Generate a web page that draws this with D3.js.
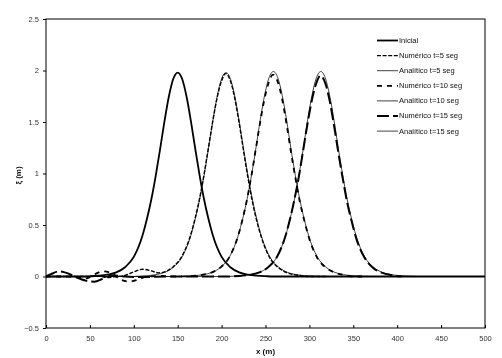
<!DOCTYPE html>
<html lang="es">
<head>
<meta charset="utf-8">
<script src="https://d3js.org/d3.v7.min.js"></script>
<style>
  body { margin: 0; background: #fff; }
  svg { will-change: transform; }
  text { font-family: "Liberation Sans", Arial, sans-serif; fill: #111; }
  .tick text { font-size: 7.5px; fill: #333; }
  .legend text { font-size: 7.5px; }
  .axis-label { font-size: 8px; font-weight: bold; }
</style>
</head>
<body>
<script>
// values, [x (m), xi (m)]
var inicial = [[0,0],[45,0],[50,0.003],[60,0.008],[70,0.018],[80,0.04],[90,0.09],[100,0.19],[110,0.40],[115,0.56],[120,0.75],[125,0.98],[130,1.24],[135,1.51],[140,1.75],[145,1.92],[150,1.98],[155,1.92],[160,1.75],[165,1.51],[170,1.24],[175,0.98],[180,0.75],[185,0.56],[190,0.40],[200,0.19],[210,0.09],[220,0.04],[230,0.018],[240,0.008],[250,0.003],[260,0],[500,0]];

var num5 = [[0,0],[50,0],[60,0.005],[70,-0.01],[80,0],[90,0.01],[100,0.045],[110,0.07],[120,0.055],[128,0.035],[135,0.045],[145,0.095],[155,0.2],[165,0.41],[170,0.57],[175,0.76],[180,0.99],[185,1.25],[190,1.51],[195,1.74],[200,1.9],[204.5,1.97],[210,1.9],[215,1.73],[220,1.49],[225,1.22],[230,0.96],[235,0.73],[240,0.54],[245,0.39],[255,0.18],[265,0.085],[275,0.035],[285,0.015],[300,0],[320,0]];

var ana5 = [[0,0],[100,0],[105,0.003],[115,0.008],[125,0.018],[135,0.04],[145,0.09],[155,0.19],[165,0.40],[170,0.56],[175,0.75],[180,0.98],[185,1.24],[190,1.51],[195,1.75],[200,1.92],[205,1.98],[210,1.92],[215,1.75],[220,1.51],[225,1.24],[230,0.98],[235,0.75],[240,0.56],[245,0.40],[255,0.19],[265,0.09],[275,0.04],[285,0.018],[295,0.008],[305,0.003],[315,0],[500,0]];

var num10 = [[0,0],[30,0],[45,-0.02],[55,0.02],[65,0.05],[75,0.03],[85,-0.03],[95,-0.05],[105,-0.03],[115,0],[130,0.005],[150,0],[170,0.008],[179,0.018],[189,0.04],[199,0.09],[209,0.19],[219,0.40],[224,0.56],[229,0.75],[234,0.98],[239,1.24],[244,1.50],[249,1.73],[254,1.89],[258.5,1.96],[264,1.89],[269,1.72],[274,1.48],[279,1.21],[284,0.96],[289,0.73],[294,0.55],[299,0.39],[309,0.18],[319,0.085],[329,0.037],[339,0.015],[350,0],[360,0]];

var ana10 = [[0,0],[154,0],[159,0.003],[169,0.008],[179,0.018],[189,0.04],[199,0.09],[209,0.19],[219,0.40],[224,0.56],[229,0.75],[234,0.98],[239,1.24],[244,1.52],[249,1.76],[254,1.93],[259,1.99],[264,1.93],[269,1.76],[274,1.52],[279,1.24],[284,0.98],[289,0.75],[294,0.56],[299,0.40],[309,0.19],[319,0.09],[329,0.04],[339,0.018],[349,0.008],[359,0.003],[369,0],[500,0]];

var num15 = [[0,0],[5,0.02],[15,0.05],[25,0.03],[35,-0.01],[45,-0.04],[55,-0.05],[65,-0.02],[75,0.01],[90,0],[110,-0.005],[140,0],[200,0],[220,0.005],[233,0.018],[243,0.04],[253,0.09],[263,0.19],[273,0.40],[278,0.56],[283,0.75],[288,0.97],[293,1.23],[298,1.49],[303,1.72],[308,1.88],[312.5,1.95],[318,1.88],[323,1.71],[328,1.47],[333,1.2],[338,0.95],[343,0.72],[348,0.54],[353,0.38],[363,0.18],[373,0.08],[383,0.035],[393,0.014],[405,0]];

var ana15 = [[0,0],[208,0],[213,0.003],[223,0.008],[233,0.018],[243,0.04],[253,0.09],[263,0.19],[273,0.40],[278,0.56],[283,0.75],[288,0.98],[293,1.24],[298,1.52],[303,1.76],[308,1.93],[313,1.99],[318,1.93],[323,1.76],[328,1.52],[333,1.24],[338,0.98],[343,0.75],[348,0.56],[353,0.40],[363,0.19],[373,0.09],[383,0.04],[393,0.018],[403,0.008],[413,0.003],[423,0],[500,0]];

var xTicks = [0, 50, 100, 150, 200, 250, 300, 350, 400, 450, 500];
var yTicks = [-0.5, 0, 0.5, 1, 1.5, 2, 2.5];

var series = [
  {name: "Inicial",               data: inicial, width: 1.8, dash: null,  color: "#000"},
  {name: "Numérico t=5 seg",      data: num5,    width: 1.4, dash: "4,1.6", color: "#000"},
  {name: "Analítico t=5 seg",     data: ana5,    width: 0.8, dash: null,  color: "#111"},
  {name: "Numérico t=10 seg",     data: num10,   width: 1.8, dash: "5,5", color: "#000"},
  {name: "Analítico t=10 seg",    data: ana10,   width: 0.8, dash: null,  color: "#111"},
  {name: "Numérico t=15 seg",     data: num15,   width: 2.0, dash: "12,4", color: "#000"},
  {name: "Analítico t=15 seg",    data: ana15,   width: 0.8, dash: null,  color: "#111"}
];

var margin = {top: 19, right: 17, bottom: 30, left: 46};
var width = 502 - margin.left - margin.right,
    height = 358 - margin.top - margin.bottom;

var svg = d3.select("body").append("svg")
    .attr("width", 502)
    .attr("height", 358)
  .append("g")
    .attr("transform", "translate(" + [margin.left, margin.top] + ")");

var x = d3.scaleLinear().domain([0, 500]).range([0, width]);
var y = d3.scaleLinear().domain([-0.5, 2.5]).range([height, 0]);

// frame
svg.append("rect")
  .attr("width", width)
  .attr("height", height)
  .attr("fill", "none")
  .attr("stroke", "#000")
  .attr("stroke-width", 1);

var xAxis = svg.append("g")
  .attr("transform", "translate(0," + height + ")")
  .call(d3.axisBottom(x).tickValues(xTicks).tickSizeInner(-3).tickSizeOuter(0).tickPadding(8));
xAxis.select(".domain").remove();

var yAxis = svg.append("g")
  .call(d3.axisLeft(y).tickValues(yTicks).tickSize(3).tickPadding(4).tickFormat(d3.format("")));
yAxis.select(".domain").remove();

var line = d3.line()
  .x(d => x(d[0]))
  .y(d => y(d[1]))
  .curve(d3.curveMonotoneX);

// draw analytic first, then numeric, initial on top
var order = [2, 4, 6, 1, 3, 5, 0];
order.forEach(function(i) {
  var s = series[i];
  svg.append("path")
    .datum(s.data)
    .attr("fill", "none")
    .attr("stroke", s.color)
    .attr("stroke-width", s.width)
    .attr("stroke-dasharray", s.dash)
    .attr("d", line);
});

// legend
var legend = svg.append("g")
  .attr("class", "legend")
  .attr("transform", "translate(" + [377 - margin.left, 40.5 - margin.top] + ")");

var rows = legend.selectAll("g")
  .data(series)
  .enter().append("g")
    .attr("transform", (d, i) => "translate(0," + i * 15.1 + ")");

rows.append("line")
  .attr("x1", 0).attr("x2", 21)
  .attr("stroke", d => d.color)
  .attr("stroke-width", d => d.width)
  .attr("stroke-dasharray", d => d.dash);

rows.append("text")
  .attr("x", 22)
  .attr("dy", "0.33em")
  .text(d => d.name);

svg.append("text")
  .attr("class", "axis-label")
  .attr("text-anchor", "middle")
  .attr("x", width / 2)
  .attr("y", height + 26)
  .text("x (m)");

svg.append("text")
  .attr("class", "axis-label")
  .attr("text-anchor", "middle")
  .attr("transform", "translate(" + [-25, height / 2 + 2] + ") rotate(-90)")
  .text("ξ (m)");
</script>
</body>
</html>
